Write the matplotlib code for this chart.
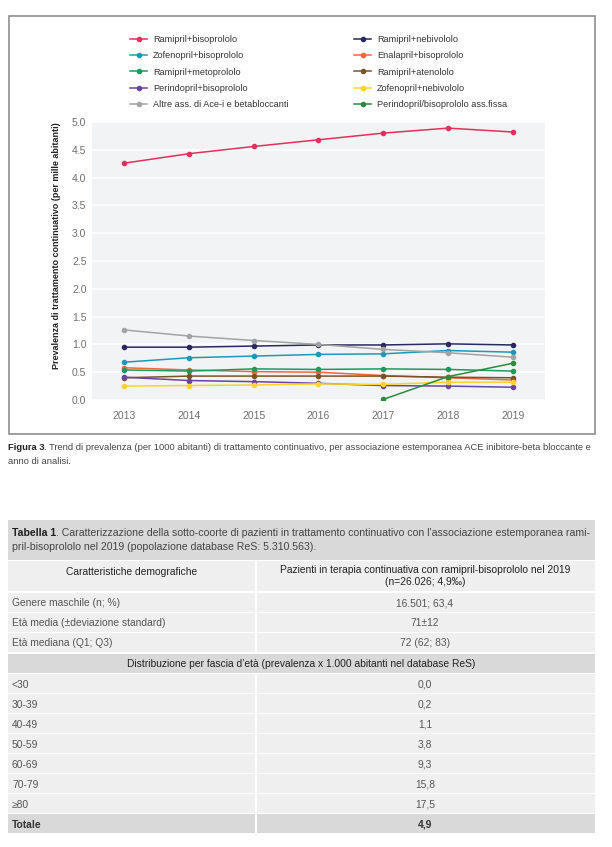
import matplotlib
matplotlib.use("Agg")
import matplotlib.pyplot as plt
from matplotlib.patches import Rectangle

plt.rcParams['font.family'] = ['Liberation Sans', 'DejaVu Sans']

# dati del grafico (prevalenza per mille abitanti)
years = [2013, 2014, 2015, 2016, 2017, 2018, 2019]
ramipril_bisoprololo = [4.26, 4.43, 4.56, 4.68, 4.80, 4.89, 4.82]
ramipril_nebivololo = [0.95, 0.95, 0.97, 0.99, 0.99, 1.01, 0.99]
zofenopril_bisoprololo = [0.68, 0.76, 0.79, 0.82, 0.83, 0.89, 0.86]
enalapril_bisoprololo = [0.58, 0.54, 0.51, 0.50, 0.44, 0.40, 0.36]
ramipril_metoprololo = [0.54, 0.52, 0.56, 0.55, 0.56, 0.55, 0.52]
ramipril_atenololo = [0.40, 0.43, 0.43, 0.43, 0.43, 0.41, 0.40]
perindopril_bisoprololo = [0.41, 0.35, 0.33, 0.30, 0.26, 0.25, 0.23]
zofenopril_nebivololo = [0.25, 0.26, 0.27, 0.29, 0.28, 0.32, 0.32]
altre_ass = [1.26, 1.15, 1.07, 1.00, 0.91, 0.85, 0.77]
fissa_years = [2017, 2018, 2019]
perindopril_fissa = [0.01, 0.42, 0.66]

y_ticks = [0.0, 0.5, 1.0, 1.5, 2.0, 2.5, 3.0, 3.5, 4.0, 4.5, 5.0]

# dati tabella
row_labels = ["Genere maschile (n; %)", "Età media (±deviazione standard)", "Età mediana (Q1; Q3)"]
row_values = ["16.501; 63,4", "71±12", "72 (62; 83)"]
age_bands = ["<30", "30-39", "40-49", "50-59", "60-69", "70-79", "≥80"]
age_prev = ["0,0", "0,2", "1,1", "3,8", "9,3", "15,8", "17,5"]
totale = "4,9"

series = [
    ("Ramipril+bisoprololo", years, ramipril_bisoprololo, "#e3305f"),
    ("Ramipril+nebivololo", years, ramipril_nebivololo, "#2a2860"),
    ("Zofenopril+bisoprololo", years, zofenopril_bisoprololo, "#1e98b8"),
    ("Enalapril+bisoprololo", years, enalapril_bisoprololo, "#f0673c"),
    ("Ramipril+metoprololo", years, ramipril_metoprololo, "#1e9a5c"),
    ("Ramipril+atenololo", years, ramipril_atenololo, "#7b5322"),
    ("Perindopril+bisoprololo", years, perindopril_bisoprololo, "#6a43a0"),
    ("Zofenopril+nebivololo", years, zofenopril_nebivololo, "#ffd22e"),
    ("Altre ass. di Ace-i e betabloccanti", years, altre_ass, "#a3a3a3"),
    ("Perindopril/bisoprololo ass.fissa", fissa_years, perindopril_fissa, "#2d8a3e"),
]

fig = plt.figure(figsize=(6.12, 8.47), dpi=100)

# overlay in pixel per cornice, didascalia e tabella
over = fig.add_axes([0, 0, 1, 1])
over.set_xlim(0, 612)
over.set_ylim(847, 0)
over.axis('off')

over.add_patch(Rectangle((8.5, 16), 586, 418, fill=False, edgecolor="#8f8f8f", lw=1.2))

ax = fig.add_axes([92 / 612, 1 - 400 / 847, 453 / 612, 278 / 847])
ax.set_facecolor("#f2f3f4")
handles = []
for name, xs, ys, col in series:
    h, = ax.plot(xs, ys, color=col, lw=1.1, marker='o', markersize=3, label=name)
    handles.append(h)

ax.set_xlim(2012.5, 2019.5)
ax.set_ylim(0, 5)
ax.set_xticks(years)
ax.set_yticks(y_ticks)
ax.set_yticklabels([f"{v:.1f}" for v in y_ticks])
ax.tick_params(length=0, labelsize=7.5, colors="#6f6f6f", pad=4)
ax.tick_params(axis='x', pad=8)
ax.grid(axis='y', color='white', lw=1.2)
ax.set_axisbelow(True)
for s in ax.spines.values():
    s.set_visible(False)
ax.set_ylabel("Prevalenza di trattamento continuativo (per mille abitanti)",
              fontsize=6.5, fontweight='bold', color="#222222")
ax.yaxis.set_label_coords(-0.068, 0.554)

# legenda su due colonne
for idx, x0 in [([0, 2, 4, 6, 8], 130), ([1, 3, 5, 7, 9], 354)]:
    fig.legend([handles[i] for i in idx], [series[i][0] for i in idx],
               loc='upper left', bbox_to_anchor=(x0, 35), bbox_transform=over.transData,
               frameon=False, fontsize=6.6, handlelength=1.9, handletextpad=0.6,
               labelspacing=0.8, borderpad=0, borderaxespad=0, labelcolor="#333333")

# didascalia
cap_fs = 6.75
t1 = over.text(8, 448, "Figura 3", fontsize=cap_fs, fontweight='bold', color="#222222", va='center')
over.annotate(". Trend di prevalenza (per 1000 abitanti) di trattamento continuativo, per associazione "
              "estemporanea ACE inibitore-beta bloccante e",
              xy=(1, 0), xycoords=t1, va='bottom', fontsize=cap_fs, color="#444444")
over.text(8, 461, "anno di analisi.", fontsize=cap_fs, color="#444444", va='center')

# tabella
L, R, MID = 8, 595, 255
dark = "#d9d9d9"
light = "#efefef"
tfs = 7.4
over.add_patch(Rectangle((L, 520), R - L, 40, color=dark, lw=0))
t2 = over.text(12, 533, "Tabella 1", fontsize=7.6, fontweight='bold', color="#222222", va='center')
over.annotate(". Caratterizzazione della sotto-coorte di pazienti in trattamento continuativo con "
              "l'associazione estemporanea rami-",
              xy=(1, 0), xycoords=t2, va='bottom', fontsize=7.6, color="#444444")
over.text(12, 547, "pril-bisoprololo nel 2019 (popolazione database ReS: 5.310.563).",
          fontsize=7.6, color="#444444", va='center')

# intestazione colonne
over.add_patch(Rectangle((L, 561), MID - L, 30, color=light, lw=0))
over.add_patch(Rectangle((MID + 1.5, 561), R - MID - 1.5, 30, color=light, lw=0))
over.text((L + MID) / 2, 572, "Caratteristiche demografiche", fontsize=tfs, color="#222222",
          ha='center', va='center')
over.text((MID + R) / 2, 570, "Pazienti in terapia continuativa con ramipril-bisoprololo nel 2019",
          fontsize=tfs, color="#222222", ha='center', va='center')
over.text((MID + R) / 2, 582, "(n=26.026; 4,9‰)", fontsize=tfs, color="#222222",
          ha='center', va='center')


def draw_row(y, label, value, bg, bold=False):
    over.add_patch(Rectangle((L, y - 9.5), MID - L, 19, color=bg, lw=0))
    over.add_patch(Rectangle((MID + 1.5, y - 9.5), R - MID - 1.5, 19, color=bg, lw=0))
    w = 'bold' if bold else 'normal'
    c = "#333333" if bold else "#555555"
    over.text(12, y + 0.5, label, fontsize=tfs, color=c, va='center', fontweight=w)
    over.text((MID + R) / 2, y + 0.5, value, fontsize=tfs, color=c, ha='center', va='center', fontweight=w)


for i, (lab, val) in enumerate(zip(row_labels, row_values)):
    draw_row(603 + 20 * i, lab, val, light)

over.add_patch(Rectangle((L, 654), R - L, 19, color=dark, lw=0))
over.text((L + R) / 2, 664, "Distribuzione per fascia d’età (prevalenza x 1.000 abitanti nel database ReS)",
          fontsize=tfs, color="#222222", ha='center', va='center')

for i, (lab, val) in enumerate(zip(age_bands, age_prev)):
    draw_row(684 + 20 * i, lab, val, light)
draw_row(824, "Totale", totale, dark, bold=True)

fig.savefig("out.png", dpi=100)
